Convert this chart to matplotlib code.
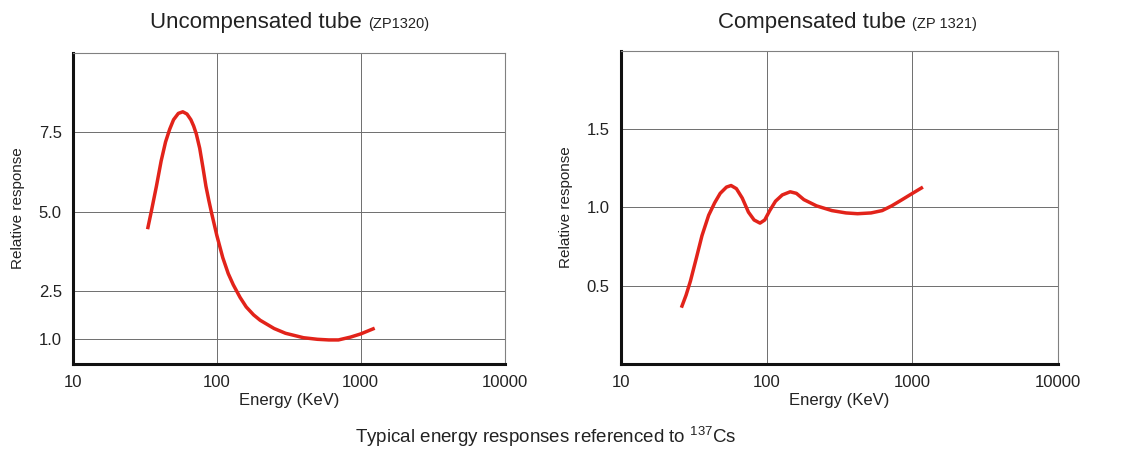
import matplotlib
matplotlib.use("Agg")
import matplotlib.pyplot as plt

plt.rcParams['font.family'] = ['Liberation Sans', 'DejaVu Sans']
plt.rcParams['mathtext.fontset'] = 'custom'
plt.rcParams['mathtext.rm'] = 'Liberation Sans'

# Respuesta del tubo sin compensar (ZP1320)
energia_unc = [33, 35, 38, 41, 44, 47, 50, 54, 58, 62, 66, 69, 72, 76, 80, 84,
               88, 92, 100, 110, 120, 130, 145, 160, 180, 200, 250, 300, 400,
               500, 600, 700, 850, 1000, 1250]
resp_unc = [4.45, 5.0, 5.8, 6.6, 7.2, 7.6, 7.9, 8.1, 8.15, 8.08, 7.9, 7.7, 7.45,
            7.0, 6.4, 5.8, 5.35, 4.95, 4.25, 3.55, 3.05, 2.7, 2.3, 2.0, 1.75,
            1.58, 1.32, 1.17, 1.03, 0.98, 0.96, 0.96, 1.05, 1.15, 1.33]

# Respuesta del tubo compensado (ZP 1321)
energia_comp = [26, 28, 30, 33, 36, 40, 44, 48, 53, 57, 62, 68, 75, 82, 90, 97,
                105, 115, 128, 145, 160, 180, 220, 280, 350, 420, 520, 620, 720,
                850, 1000, 1180]
resp_comp = [0.36, 0.44, 0.53, 0.68, 0.82, 0.95, 1.03, 1.09, 1.13, 1.14, 1.12,
             1.06, 0.97, 0.92, 0.90, 0.92, 0.98, 1.04, 1.08, 1.10, 1.09, 1.05,
             1.01, 0.98, 0.965, 0.96, 0.965, 0.98, 1.01, 1.05, 1.09, 1.13]

xticks = [10, 100, 1000, 10000]
xlabels = ['10', '100', '1000', '10000']
yticks_unc = [1.0, 2.5, 5.0, 7.5]
yticks_comp = [0.5, 1.0, 1.5]

rojo = '#e2231a'
gris = '#808080'

fig = plt.figure(figsize=(11.33, 4.5), dpi=100)
ax1 = fig.add_axes([0.0644, 0.191, 0.381, 0.691])
ax2 = fig.add_axes([0.548, 0.191, 0.386, 0.696])


def estilo(ax, yticks, ylim):
    ax.set_xscale('log')
    ax.set_xlim(10, 10000)
    ax.set_ylim(*ylim)
    ax.set_xticks(xticks)
    ax.set_xticklabels(xlabels)
    ax.minorticks_off()
    ax.set_yticks(yticks)
    ax.set_yticklabels(['%.1f' % v for v in yticks])
    ax.tick_params(length=0, labelsize=12, colors='#222222', pad=8)
    ax.grid(True, color='#6e6e6e', linewidth=0.7)
    ax.set_axisbelow(True)
    for lado in ['left', 'bottom']:
        ax.spines[lado].set_linewidth(2.2)
        ax.spines[lado].set_color('#111111')
    for lado in ['top', 'right']:
        ax.spines[lado].set_linewidth(0.8)
        ax.spines[lado].set_color(gris)
    ax.set_xlabel('Energy (KeV)', fontsize=12, color='#222222', labelpad=2)
    ax.set_ylabel('Relative response', fontsize=11, color='#222222', labelpad=10)


ax1.plot(energia_unc, resp_unc, color=rojo, linewidth=2.5,
         solid_capstyle='butt', solid_joinstyle='round')
estilo(ax1, yticks_unc, (0.2, 10))

ax2.plot(energia_comp, resp_comp, color=rojo, linewidth=2.5,
         solid_capstyle='butt', solid_joinstyle='round')
estilo(ax2, yticks_comp, (0, 2))

# Titulos con la referencia del tubo en letra pequena
fig.text(362 / 1133, 1 - 28 / 450, 'Uncompensated tube', fontsize=16,
         ha='right', va='baseline', color='#222222')
fig.text(368 / 1133, 1 - 28 / 450, '(ZP1320)', fontsize=10.5,
         ha='left', va='baseline', color='#222222')
fig.text(906 / 1133, 1 - 28 / 450, 'Compensated tube', fontsize=16,
         ha='right', va='baseline', color='#222222')
fig.text(912 / 1133, 1 - 28 / 450, '(ZP 1321)', fontsize=10.5,
         ha='left', va='baseline', color='#222222')

fig.text(546 / 1133, 1 - 443 / 450, r'Typical energy responses referenced to $^{137}$Cs',
         fontsize=13.5, ha='center', va='baseline', color='#222222')

fig.savefig('out.png', dpi=100)
